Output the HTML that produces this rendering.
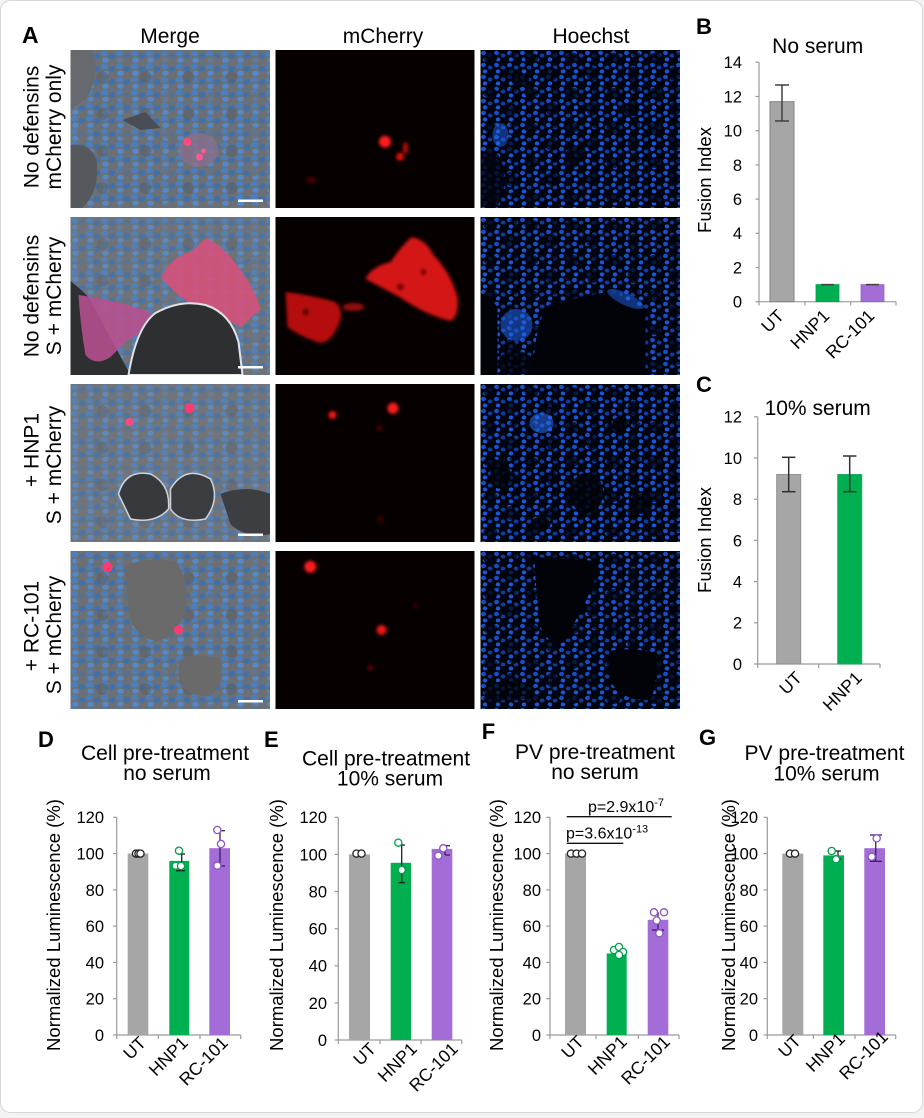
<!DOCTYPE html>
<html><head><meta charset="utf-8"><style>
html,body{margin:0;padding:0;background:#f3f3f3;}
svg{display:block;}
text{font-family:"Liberation Sans",Arial,sans-serif;fill:#000;}
</style></head><body>
<svg width="924" height="1118" viewBox="0 0 924 1118" xmlns="http://www.w3.org/2000/svg">
<defs>
 <pattern id="hoe" width="13" height="12" patternUnits="userSpaceOnUse">
  <rect width="13" height="12" fill="#01040f"/>
  <ellipse cx="3" cy="3" rx="2.5" ry="2.2" fill="#1650c8"/>
  <ellipse cx="9.6" cy="5.5" rx="2.4" ry="2.0" fill="#0f3d9c"/>
  <ellipse cx="4.5" cy="9.4" rx="2.3" ry="2.0" fill="#1a58d8"/>
 </pattern>
 <pattern id="hoeblot" width="41" height="35" patternUnits="userSpaceOnUse">
  <ellipse cx="10" cy="8" rx="7" ry="5" fill="#01040f" opacity="0.75"/>
  <ellipse cx="30" cy="24" rx="6" ry="7" fill="#01040f" opacity="0.7"/>
  <ellipse cx="33" cy="5" rx="4" ry="3" fill="#01040f" opacity="0.6"/>
 </pattern>
 <pattern id="mer" width="15" height="13" patternUnits="userSpaceOnUse">
  <rect width="15" height="13" fill="#6c7075"/>
  <ellipse cx="4" cy="3.5" rx="3.5" ry="3.0" fill="#4a7fbf"/>
  <ellipse cx="11.5" cy="6" rx="3.2" ry="2.9" fill="#3f70aa"/>
  <ellipse cx="5" cy="10.3" rx="3.3" ry="2.5" fill="#5389c8"/>
 </pattern>
 <pattern id="merblot" width="43" height="37" patternUnits="userSpaceOnUse">
  <ellipse cx="12" cy="10" rx="7" ry="5" fill="#6c7075" opacity="0.6"/>
  <ellipse cx="32" cy="27" rx="6" ry="6" fill="#5a5e63" opacity="0.5"/>
 </pattern>
 <filter id="bl" x="-20%" y="-20%" width="140%" height="140%"><feGaussianBlur stdDeviation="1.6"/></filter>
</defs>

<rect x="0.5" y="0.5" width="922" height="1112" rx="10" fill="#fff" stroke="#d6d6d6"/>

<!-- Panel A headers -->
<text x="22" y="43" font-size="23" font-weight="bold">A</text>
<text x="170" y="43" font-size="21" text-anchor="middle">Merge</text>
<text x="383" y="43" font-size="21" text-anchor="middle">mCherry</text>
<text x="591" y="43" font-size="21" text-anchor="middle">Hoechst</text>

<!-- Row labels -->
<text transform="translate(38.5,127) rotate(-90)" font-size="21" text-anchor="middle">No defensins</text>
<text transform="translate(61,127) rotate(-90)" font-size="21" text-anchor="middle">mCherry only</text>
<text transform="translate(38.5,296) rotate(-90)" font-size="21" text-anchor="middle">No defensins</text>
<text transform="translate(61,296) rotate(-90)" font-size="21" text-anchor="middle">S + mCherry</text>
<text transform="translate(38.5,450) rotate(-90)" font-size="21" text-anchor="middle">+ HNP1</text>
<text transform="translate(61,465) rotate(-90)" font-size="21" text-anchor="middle">S + mCherry</text>
<text transform="translate(38.5,626) rotate(-90)" font-size="21" text-anchor="middle">+ RC-101</text>
<text transform="translate(61,635) rotate(-90)" font-size="21" text-anchor="middle">S + mCherry</text>

<!-- Row 1 -->
<svg x="70.5" y="50" width="199.5" height="158">
 <rect width="200" height="158" fill="url(#mer)"/>
 <rect width="200" height="158" fill="url(#merblot)"/>
 <path d="M0 0 H22 Q30 20 18 45 Q8 55 0 60 Z" fill="#66696d"/>
 <path d="M0 95 Q20 92 26 110 Q30 140 12 158 H0 Z" fill="#55585c"/>
 <path d="M52 70 L75 62 L90 78 L70 80 Z" fill="#4a4e54"/>
 <ellipse cx="128" cy="100" rx="20" ry="17" fill="#8a6f8a" opacity="0.8"/>
 <circle cx="117" cy="92" r="4" fill="#ff4a80"/>
 <circle cx="129" cy="107" r="3.5" fill="#ff5a90"/>
 <circle cx="133" cy="101" r="2.5" fill="#ff5a90"/>
 <rect x="167.5" y="149.5" width="25" height="2.5" fill="#fff"/>
</svg>
<svg x="275.5" y="50" width="199" height="158">
 <rect width="200" height="158" fill="#060000"/>
 <g filter="url(#bl)">
  <circle cx="109.5" cy="91.7" r="6" fill="#ff1a1a"/>
  <circle cx="124.5" cy="106.7" r="4" fill="#e01010"/>
  <ellipse cx="130" cy="98" rx="3" ry="6" fill="#a00a0a"/>
  <ellipse cx="36" cy="130" rx="5" ry="3" fill="#500404"/>
 </g>
</svg>
<svg x="480.5" y="50" width="199.5" height="158">
 <rect width="200" height="158" fill="url(#hoe)"/>
 <rect width="200" height="158" fill="url(#hoeblot)"/>
 <g fill="#01040f" opacity="0.8">
  <ellipse cx="10" cy="130" rx="14" ry="30"/>
  <ellipse cx="95" cy="105" rx="10" ry="8"/>
  <ellipse cx="150" cy="60" rx="8" ry="6"/>
  <ellipse cx="40" cy="30" rx="9" ry="7"/>
 </g>
 <ellipse cx="20" cy="85" rx="8" ry="12" fill="#1f62e8" opacity="0.5"/>
</svg>

<!-- Row 2 -->
<svg x="70.5" y="217" width="199.5" height="158">
 <rect width="200" height="158" fill="url(#mer)"/>
 <rect width="200" height="158" fill="url(#merblot)"/>
 <rect width="200" height="158" fill="#8a8a8a" opacity="0.12"/>
 <path d="M0 64 Q10 72 18 80 L60 158 H0 Z" fill="#2e2f31"/>
 <path d="M136 21 Q150 28 160 40 Q185 70 190 93 Q180 100 171 110 Q150 100 130 92 Q105 80 91 60 Q100 40 120 35 Z" fill="#d8507a" opacity="0.88"/>
 <path d="M8 78 Q40 82 70 92 Q88 98 90 104 Q70 115 55 125 Q45 135 40 140 Q25 150 15 138 Q10 110 8 78 Z" fill="#b8508f" opacity="0.88"/>
 <path d="M58 158 Q66 110 85 96 Q110 82 135 88 Q160 96 168 125 L172 158 Z" fill="#2e2f31" stroke="#e0e4ea" stroke-width="2"/>
 <rect x="167.5" y="149" width="25" height="2.5" fill="#fff"/>
</svg>
<svg x="275.5" y="217" width="199" height="158">
 <rect width="200" height="158" fill="#060000"/>
 <g filter="url(#bl)">
  <path d="M136 20 Q150 22 158 38 Q175 55 182 80 Q184 100 175 104 Q150 98 124 80 Q105 70 90 62 Q95 50 115 45 Q125 30 136 20 Z" fill="#d41212"/>
  <path d="M10 75 Q35 78 60 85 Q70 95 62 110 Q55 125 45 126 Q25 120 12 110 Z" fill="#b50e0e"/>
  <ellipse cx="78" cy="90" rx="11" ry="4" fill="#900a0a"/>
  <circle cx="125" cy="70" r="3.5" fill="#6a0606"/>
  <circle cx="148" cy="55" r="3" fill="#6a0606"/>
  <circle cx="30" cy="95" r="3.5" fill="#5a0505"/>
 </g>
</svg>
<svg x="480.5" y="217" width="199.5" height="158">
 <rect width="200" height="158" fill="url(#hoe)"/>
 <rect width="200" height="158" fill="url(#hoeblot)"/>
 <path d="M0 76 Q10 80 17 90 L17 158 H0 Z" fill="#010309"/>
 <path d="M52 158 Q55 100 70 88 Q100 80 126 75 Q150 85 165 92 L165 158 Z" fill="#010309"/>
 <ellipse cx="35" cy="146" rx="18" ry="12" fill="#010309" opacity="0.8"/>
 <ellipse cx="36" cy="108" rx="16" ry="16" fill="#1f62e8" opacity="0.55"/>
 <ellipse cx="145" cy="82" rx="20" ry="6" fill="#1f62e8" opacity="0.5" transform="rotate(25 145 82)"/>
</svg>

<!-- Row 3 -->
<svg x="70.5" y="384" width="199.5" height="158">
 <rect width="200" height="158" fill="url(#mer)"/>
 <rect width="200" height="158" fill="url(#merblot)"/>
 <rect width="200" height="158" fill="#8a8a8a" opacity="0.18"/>
 <path d="M48 110 Q55 85 80 90 Q100 100 98 125 Q85 140 60 135 Z" fill="#37393c" stroke="#cfd4da" stroke-width="1.5"/>
 <path d="M100 105 Q115 80 140 95 Q150 115 135 135 Q110 140 100 125 Z" fill="#3a3c3f" stroke="#cfd4da" stroke-width="1.5"/>
 <path d="M150 110 Q175 100 200 110 V150 Q175 155 160 140 Z" fill="#3c3e41"/>
 <circle cx="59" cy="38" r="4" fill="#ff4a80"/>
 <circle cx="119" cy="24" r="5" fill="#ff3a70"/>
 <rect x="167.5" y="149.5" width="25" height="2.5" fill="#fff"/>
</svg>
<svg x="275.5" y="384" width="199" height="158">
 <rect width="200" height="158" fill="#060000"/>
 <g filter="url(#bl)">
  <circle cx="57" cy="31" r="4" fill="#f01414"/>
  <circle cx="117.4" cy="24.3" r="5.5" fill="#ff1a1a"/>
  <circle cx="104" cy="44" r="2.5" fill="#600505"/>
  <circle cx="105" cy="135" r="3" fill="#400303"/>
 </g>
</svg>
<svg x="480.5" y="384" width="199.5" height="158">
 <rect width="200" height="158" fill="url(#hoe)"/>
 <rect width="200" height="158" fill="url(#hoeblot)"/>
 <g fill="#010309" opacity="0.85">
  <ellipse cx="106" cy="109" rx="17" ry="20"/>
  <ellipse cx="20" cy="90" rx="10" ry="15"/>
  <ellipse cx="160" cy="120" rx="12" ry="10"/>
  <ellipse cx="140" cy="40" rx="8" ry="8"/>
  <ellipse cx="60" cy="140" rx="10" ry="7"/>
 </g>
 <ellipse cx="61" cy="39" rx="12" ry="10" fill="#2a6df0" opacity="0.55"/>
</svg>

<!-- Row 4 -->
<svg x="70.5" y="551" width="199.5" height="158">
 <rect width="200" height="158" fill="url(#mer)"/>
 <rect width="200" height="158" fill="url(#merblot)"/>
 <path d="M55 15 Q75 5 105 10 Q120 30 115 60 Q105 88 85 90 Q62 85 58 60 Z" fill="#6a6a6a"/>
 <path d="M108 110 Q125 100 150 108 Q155 130 140 145 Q115 145 108 130Z" fill="#6a6a6a"/>
 <circle cx="37" cy="16" r="5" fill="#ff3a70"/>
 <circle cx="108" cy="79" r="4.5" fill="#ff3a70"/>
 <rect x="167.5" y="149" width="25" height="2.5" fill="#fff"/>
</svg>
<svg x="275.5" y="551" width="199" height="158">
 <rect width="200" height="158" fill="#060000"/>
 <g filter="url(#bl)">
  <circle cx="34.8" cy="15.7" r="6" fill="#ff1a1a"/>
  <circle cx="106" cy="79" r="5" fill="#f01414"/>
  <circle cx="95" cy="117" r="3" fill="#600505"/>
  <circle cx="140" cy="55" r="2.5" fill="#400303"/>
 </g>
</svg>
<svg x="480.5" y="551" width="199.5" height="158">
 <rect width="200" height="158" fill="url(#hoe)"/>
 <rect width="200" height="158" fill="url(#hoeblot)"/>
 <path d="M54 6 L119 10 Q112 40 100 60 Q90 80 82 92 Q65 92 60 75 Q55 40 54 6 Z" fill="#010309"/>
 <path d="M129 100 Q150 96 176 102 Q178 130 170 149 Q140 150 130 130 Z" fill="#010309"/>
 <ellipse cx="28" cy="140" rx="25" ry="10" fill="#010309" opacity="0.7"/>
</svg>

<!-- Panel B -->
<text x="696" y="34" font-size="22" font-weight="bold">B</text>
<text x="817.7" y="53" font-size="21" text-anchor="middle">No serum</text>
<text transform="translate(711,180) rotate(-90)" font-size="18.5" text-anchor="middle">Fusion Index</text>
<g stroke="#9a9a9a" stroke-width="1.2" fill="none">
 <line x1="759" y1="62.3" x2="759" y2="301.7"/>
 <line x1="759" y1="301.7" x2="896" y2="301.7"/>
 <line x1="755.5" y1="301.7" x2="759" y2="301.7"/><line x1="755.5" y1="267.5" x2="759" y2="267.5"/>
 <line x1="755.5" y1="233.3" x2="759" y2="233.3"/><line x1="755.5" y1="199.1" x2="759" y2="199.1"/>
 <line x1="755.5" y1="164.9" x2="759" y2="164.9"/><line x1="755.5" y1="130.7" x2="759" y2="130.7"/>
 <line x1="755.5" y1="96.5" x2="759" y2="96.5"/><line x1="755.5" y1="62.3" x2="759" y2="62.3"/>
 <line x1="759" y1="301.7" x2="759" y2="305.5"/><line x1="805" y1="301.7" x2="805" y2="305.5"/>
 <line x1="850.7" y1="301.7" x2="850.7" y2="305.5"/><line x1="896" y1="301.7" x2="896" y2="305.5"/>
</g>
<g font-size="16.5" text-anchor="end">
 <text x="742" y="307.6">0</text><text x="742" y="273.4">2</text><text x="742" y="239.2">4</text>
 <text x="742" y="205">6</text><text x="742" y="170.8">8</text><text x="742" y="136.6">10</text>
 <text x="742" y="102.4">12</text><text x="742" y="68.2">14</text>
</g>
<rect x="770" y="101.7" width="24" height="200" fill="#a6a6a6" stroke="#808080" stroke-width="1"/>
<rect x="816" y="284.6" width="23" height="17.1" fill="#00b050" stroke="#00a048" stroke-width="0.8"/>
<rect x="861" y="284.6" width="23" height="17.1" fill="#a46cd6" stroke="#9560c8" stroke-width="0.8"/>
<g stroke="#404040" stroke-width="1.5">
 <line x1="782" y1="85" x2="782" y2="121"/><line x1="775" y1="85" x2="789" y2="85"/><line x1="775" y1="121" x2="789" y2="121"/>
 <line x1="821" y1="284.6" x2="834" y2="284.6"/><line x1="866" y1="284.6" x2="879" y2="284.6"/>
</g>
<g font-size="17.5" text-anchor="end">
 <text transform="translate(785,317) rotate(-45)">UT</text>
 <text transform="translate(830.5,317) rotate(-45)">HNP1</text>
 <text transform="translate(875.5,317) rotate(-45)">RC-101</text>
</g>

<!-- Panel C -->
<text x="696" y="392" font-size="22" font-weight="bold">C</text>
<text x="817.7" y="415" font-size="21" text-anchor="middle">10% serum</text>
<text transform="translate(711,540) rotate(-90)" font-size="18.5" text-anchor="middle">Fusion Index</text>
<g stroke="#9a9a9a" stroke-width="1.2" fill="none">
 <line x1="757.7" y1="416.8" x2="757.7" y2="664"/>
 <line x1="757.7" y1="664" x2="880" y2="664"/>
 <line x1="754" y1="664" x2="757.7" y2="664"/><line x1="754" y1="622.8" x2="757.7" y2="622.8"/>
 <line x1="754" y1="581.6" x2="757.7" y2="581.6"/><line x1="754" y1="540.4" x2="757.7" y2="540.4"/>
 <line x1="754" y1="499.2" x2="757.7" y2="499.2"/><line x1="754" y1="458" x2="757.7" y2="458"/>
 <line x1="754" y1="416.8" x2="757.7" y2="416.8"/>
 <line x1="757.7" y1="664" x2="757.7" y2="668"/><line x1="818.7" y1="664" x2="818.7" y2="668"/><line x1="880" y1="664" x2="880" y2="668"/>
</g>
<g font-size="16.5" text-anchor="end">
 <text x="742" y="669.9">0</text><text x="742" y="628.7">2</text><text x="742" y="587.5">4</text>
 <text x="742" y="546.3">6</text><text x="742" y="505.1">8</text><text x="742" y="463.9">10</text>
 <text x="742" y="422.7">12</text>
</g>
<rect x="776.7" y="474.5" width="24" height="189.5" fill="#a6a6a6" stroke="#909090" stroke-width="1"/>
<rect x="837.7" y="474.5" width="24" height="189.5" fill="#00b050" stroke="#20a860" stroke-width="1"/>
<g stroke="#303030" stroke-width="1.5">
 <line x1="788.7" y1="457.3" x2="788.7" y2="491.7"/><line x1="782" y1="457.3" x2="795.4" y2="457.3"/><line x1="782" y1="491.7" x2="795.4" y2="491.7"/>
 <line x1="849.7" y1="456" x2="849.7" y2="491.7"/><line x1="843" y1="456" x2="856.4" y2="456"/><line x1="843" y1="491.7" x2="856.4" y2="491.7"/>
</g>
<g font-size="17.5" text-anchor="end">
 <text transform="translate(803,679) rotate(-45)">UT</text>
 <text transform="translate(863,679) rotate(-45)">HNP1</text>
</g>

<!-- Panel D -->
<text x="38" y="747" font-size="22" font-weight="bold">D</text>
<text x="165" y="760" font-size="21" text-anchor="middle">Cell pre-treatment</text>
<text x="167" y="780" font-size="21" text-anchor="middle">no serum</text>
<text transform="translate(60,925) rotate(-90)" font-size="18.5" text-anchor="middle">Normalized Luminescence (%)</text>
<g stroke="#9a9a9a" stroke-width="1.2" fill="none">
 <line x1="116.7" y1="817.3" x2="116.7" y2="1035"/>
 <line x1="116.7" y1="1035" x2="240.7" y2="1035"/>
 <line x1="113" y1="1035" x2="116.7" y2="1035"/><line x1="113" y1="998.7" x2="116.7" y2="998.7"/>
 <line x1="113" y1="962.4" x2="116.7" y2="962.4"/><line x1="113" y1="926.1" x2="116.7" y2="926.1"/>
 <line x1="113" y1="889.9" x2="116.7" y2="889.9"/><line x1="113" y1="853.6" x2="116.7" y2="853.6"/>
 <line x1="113" y1="817.3" x2="116.7" y2="817.3"/>
 <line x1="116.7" y1="1035" x2="116.7" y2="1039"/><line x1="158.3" y1="1035" x2="158.3" y2="1039"/>
 <line x1="200" y1="1035" x2="200" y2="1039"/><line x1="240.7" y1="1035" x2="240.7" y2="1039"/>
</g>
<g font-size="16.5" text-anchor="end">
 <text x="104" y="1040.9">0</text><text x="104" y="1004.6">20</text><text x="104" y="968.3">40</text>
 <text x="104" y="932">60</text><text x="104" y="895.8">80</text><text x="104" y="859.5">100</text>
 <text x="104" y="823.2">120</text>
</g>
<rect x="127.7" y="853.6" width="20.6" height="181.4" fill="#a6a6a6"/>
<rect x="169.3" y="860.9" width="20" height="174.1" fill="#00b050"/>
<rect x="209.3" y="848.2" width="20.7" height="186.8" fill="#a46cd6"/>
<g stroke="#222" stroke-width="1.3">
 <line x1="181.7" y1="854" x2="181.7" y2="870.7"/><line x1="178" y1="854" x2="185" y2="854"/><line x1="176" y1="870.7" x2="185" y2="870.7"/>
</g>
<g stroke="#3b1f5c" stroke-width="1.3">
 <line x1="220" y1="830.7" x2="220" y2="866"/><line x1="220" y1="830.7" x2="225" y2="830.7"/><line x1="220" y1="866" x2="225" y2="866"/>
</g>
<g fill="#fff" stroke-width="1.3">
 <circle cx="136" cy="853.6" r="3.6" stroke="#222"/><circle cx="138.5" cy="853.6" r="3.6" stroke="#222"/><circle cx="140.5" cy="853.6" r="3.6" stroke="#222"/>
 <circle cx="179" cy="850.7" r="3.6" stroke="#00a050"/><circle cx="175.7" cy="865.7" r="3.6" stroke="#00a050"/><circle cx="181" cy="866" r="3.6" stroke="#00a050"/>
 <circle cx="217.3" cy="830" r="3.6" stroke="#8a55c4"/><circle cx="221" cy="844" r="3.6" stroke="#8a55c4"/><circle cx="217.3" cy="865.7" r="3.6" stroke="#8a55c4"/>
</g>
<g font-size="17.5" text-anchor="end">
 <text transform="translate(147,1044) rotate(-45)">UT</text>
 <text transform="translate(189,1044) rotate(-45)">HNP1</text>
 <text transform="translate(229,1044) rotate(-45)">RC-101</text>
</g>

<!-- Panel E -->
<text x="264" y="747" font-size="22" font-weight="bold">E</text>
<text x="386" y="765.5" font-size="21" text-anchor="middle">Cell pre-treatment</text>
<text x="390" y="785.7" font-size="21" text-anchor="middle">10% serum</text>
<text transform="translate(283,925) rotate(-90)" font-size="18.5" text-anchor="middle">Normalized Luminescence (%)</text>
<g stroke="#9a9a9a" stroke-width="1.2" fill="none">
 <line x1="338.3" y1="817.3" x2="338.3" y2="1040"/>
 <line x1="338.3" y1="1040" x2="461.7" y2="1040"/>
 <line x1="334.6" y1="1040" x2="338.3" y2="1040"/><line x1="334.6" y1="1002.9" x2="338.3" y2="1002.9"/>
 <line x1="334.6" y1="965.8" x2="338.3" y2="965.8"/><line x1="334.6" y1="928.7" x2="338.3" y2="928.7"/>
 <line x1="334.6" y1="891.5" x2="338.3" y2="891.5"/><line x1="334.6" y1="854.4" x2="338.3" y2="854.4"/>
 <line x1="334.6" y1="817.3" x2="338.3" y2="817.3"/>
 <line x1="338.3" y1="1040" x2="338.3" y2="1044"/><line x1="380" y1="1040" x2="380" y2="1044"/>
 <line x1="421" y1="1040" x2="421" y2="1044"/><line x1="461.7" y1="1040" x2="461.7" y2="1044"/>
</g>
<g font-size="16.5" text-anchor="end">
 <text x="327" y="1045.9">0</text><text x="327" y="1008.8">20</text><text x="327" y="971.7">40</text>
 <text x="327" y="934.6">60</text><text x="327" y="897.4">80</text><text x="327" y="860.3">100</text>
 <text x="327" y="823.2">120</text>
</g>
<rect x="349" y="854.4" width="21" height="185.6" fill="#a6a6a6"/>
<rect x="390.7" y="862.8" width="20.3" height="177.2" fill="#00b050"/>
<rect x="431.7" y="848.9" width="20.6" height="191.1" fill="#a46cd6"/>
<g stroke="#222" stroke-width="1.3">
 <line x1="401.7" y1="845" x2="401.7" y2="882.7"/><line x1="398.3" y1="845" x2="405" y2="845"/><line x1="398.3" y1="882.7" x2="405" y2="882.7"/>
</g>
<g stroke="#3b1f5c" stroke-width="1.3">
 <line x1="445" y1="845.7" x2="445" y2="855"/><line x1="445" y1="845.7" x2="450" y2="845.7"/><line x1="445" y1="855" x2="450" y2="855"/>
</g>
<g fill="#fff" stroke-width="1.3">
 <circle cx="356.5" cy="853.6" r="3.6" stroke="#222"/><circle cx="361.5" cy="853.6" r="3.6" stroke="#222"/>
 <circle cx="398.3" cy="842.7" r="3.6" stroke="#00a050"/><circle cx="401.7" cy="870" r="3.6" stroke="#00a050"/>
 <circle cx="438.3" cy="855.7" r="3.6" stroke="#8a55c4"/><circle cx="443.3" cy="848.3" r="3.6" stroke="#8a55c4"/>
</g>
<g font-size="17.5" text-anchor="end">
 <text transform="translate(377,1050) rotate(-45)">UT</text>
 <text transform="translate(418,1050) rotate(-45)">HNP1</text>
 <text transform="translate(459,1050) rotate(-45)">RC-101</text>
</g>

<!-- Panel F -->
<text x="481.7" y="739" font-size="22" font-weight="bold">F</text>
<text x="595" y="759" font-size="21" text-anchor="middle">PV pre-treatment</text>
<text x="595" y="779" font-size="21" text-anchor="middle">no serum</text>
<text transform="translate(503,925) rotate(-90)" font-size="18.5" text-anchor="middle">Normalized Luminescence (%)</text>
<g stroke="#9a9a9a" stroke-width="1.2" fill="none">
 <line x1="550" y1="817.3" x2="550" y2="1035"/>
 <line x1="550" y1="1035" x2="679" y2="1035"/>
 <line x1="546.3" y1="1035" x2="550" y2="1035"/><line x1="546.3" y1="998.7" x2="550" y2="998.7"/>
 <line x1="546.3" y1="962.4" x2="550" y2="962.4"/><line x1="546.3" y1="926.1" x2="550" y2="926.1"/>
 <line x1="546.3" y1="889.9" x2="550" y2="889.9"/><line x1="546.3" y1="853.6" x2="550" y2="853.6"/>
 <line x1="546.3" y1="817.3" x2="550" y2="817.3"/>
 <line x1="550" y1="1035" x2="550" y2="1039"/><line x1="596" y1="1035" x2="596" y2="1039"/>
 <line x1="638.3" y1="1035" x2="638.3" y2="1039"/><line x1="679" y1="1035" x2="679" y2="1039"/>
</g>
<g font-size="16.5" text-anchor="end">
 <text x="541" y="1040.9">0</text><text x="541" y="1004.6">20</text><text x="541" y="968.3">40</text>
 <text x="541" y="932">60</text><text x="541" y="895.8">80</text><text x="541" y="859.5">100</text>
 <text x="541" y="823.2">120</text>
</g>
<g stroke="#111" stroke-width="1.3">
 <line x1="566.7" y1="816.7" x2="671.7" y2="816.7"/>
 <line x1="566.7" y1="843.3" x2="623.3" y2="843.3"/>
</g>
<text x="664" y="812" font-size="16" text-anchor="end">p=2.9x10<tspan font-size="11" dy="-6">-7</tspan></text>
<text x="566" y="838.3" font-size="16">p=3.6x10<tspan font-size="11" dy="-6">-13</tspan></text>
<rect x="565" y="853.6" width="21" height="181.4" fill="#a6a6a6"/>
<rect x="606.7" y="953.4" width="20" height="81.6" fill="#00b050"/>
<rect x="647.7" y="919.8" width="20.6" height="115.2" fill="#a46cd6"/>
<g stroke="#3b1f5c" stroke-width="1.3">
 <line x1="658" y1="912" x2="658" y2="930"/><line x1="652" y1="930" x2="664" y2="930"/>
</g>
<g fill="#fff" stroke-width="1.3">
 <circle cx="571" cy="853.6" r="3.6" stroke="#222"/><circle cx="576.5" cy="853.6" r="3.6" stroke="#222"/><circle cx="582" cy="853.6" r="3.6" stroke="#222"/>
 <circle cx="614" cy="950" r="3.6" stroke="#00a050"/><circle cx="619" cy="947" r="3.6" stroke="#00a050"/><circle cx="623" cy="952" r="3.6" stroke="#00a050"/><circle cx="619" cy="955" r="3.6" stroke="#00a050"/>
 <circle cx="654" cy="912.3" r="3.6" stroke="#8a55c4"/><circle cx="664" cy="912.3" r="3.6" stroke="#8a55c4"/><circle cx="656.7" cy="920.5" r="3.6" stroke="#8a55c4"/><circle cx="659.3" cy="933.3" r="3.6" stroke="#8a55c4"/>
</g>
<g font-size="17.5" text-anchor="end">
 <text transform="translate(585,1043) rotate(-45)">UT</text>
 <text transform="translate(628,1043) rotate(-45)">HNP1</text>
 <text transform="translate(671,1043) rotate(-45)">RC-101</text>
</g>

<!-- Panel G -->
<text x="699" y="745" font-size="22" font-weight="bold">G</text>
<text x="824.5" y="760" font-size="21" text-anchor="middle">PV pre-treatment</text>
<text x="826.5" y="780.5" font-size="21" text-anchor="middle">10% serum</text>
<text transform="translate(735,925) rotate(-90)" font-size="18.5" text-anchor="middle">Normalized Luminescence (%)</text>
<g stroke="#9a9a9a" stroke-width="1.2" fill="none">
 <line x1="767.3" y1="817.3" x2="767.3" y2="1035"/>
 <line x1="767.3" y1="1035" x2="895.7" y2="1035"/>
 <line x1="763.6" y1="1035" x2="767.3" y2="1035"/><line x1="763.6" y1="998.7" x2="767.3" y2="998.7"/>
 <line x1="763.6" y1="962.4" x2="767.3" y2="962.4"/><line x1="763.6" y1="926.1" x2="767.3" y2="926.1"/>
 <line x1="763.6" y1="889.9" x2="767.3" y2="889.9"/><line x1="763.6" y1="853.6" x2="767.3" y2="853.6"/>
 <line x1="763.6" y1="817.3" x2="767.3" y2="817.3"/>
 <line x1="767.3" y1="1035" x2="767.3" y2="1039"/><line x1="813.3" y1="1035" x2="813.3" y2="1039"/>
 <line x1="855" y1="1035" x2="855" y2="1039"/><line x1="895.7" y1="1035" x2="895.7" y2="1039"/>
</g>
<g font-size="16.5" text-anchor="end">
 <text x="758" y="1040.9">0</text><text x="758" y="1004.6">20</text><text x="758" y="968.3">40</text>
 <text x="758" y="932">60</text><text x="758" y="895.8">80</text><text x="758" y="859.5">100</text>
 <text x="758" y="823.2">120</text>
</g>
<rect x="782.3" y="853.6" width="21" height="181.4" fill="#a6a6a6"/>
<rect x="823.3" y="855.4" width="20.7" height="179.6" fill="#00b050"/>
<rect x="864.3" y="848.2" width="20.7" height="186.8" fill="#a46cd6"/>
<g stroke="#222" stroke-width="1.3">
 <line x1="838" y1="851" x2="838" y2="859"/><line x1="835" y1="851" x2="841" y2="851"/><line x1="835" y1="859" x2="841" y2="859"/>
</g>
<g stroke="#3b1f5c" stroke-width="1.3">
 <line x1="875.7" y1="835" x2="875.7" y2="861.3"/><line x1="870" y1="835" x2="882" y2="835"/><line x1="870" y1="861.3" x2="882" y2="861.3"/>
</g>
<g fill="#fff" stroke-width="1.3">
 <circle cx="790" cy="853.6" r="3.6" stroke="#222"/><circle cx="795" cy="853.6" r="3.6" stroke="#222"/>
 <circle cx="831.7" cy="851" r="3.6" stroke="#00a050"/><circle cx="836" cy="859.3" r="3.6" stroke="#00a050"/>
 <circle cx="876.7" cy="838.3" r="3.6" stroke="#8a55c4"/><circle cx="871.7" cy="856.7" r="3.6" stroke="#8a55c4"/>
</g>
<g font-size="17.5" text-anchor="end">
 <text transform="translate(802,1042) rotate(-45)">UT</text>
 <text transform="translate(846,1040) rotate(-45)">HNP1</text>
 <text transform="translate(889,1038) rotate(-45)">RC-101</text>
</g>
</svg>
</body></html>
